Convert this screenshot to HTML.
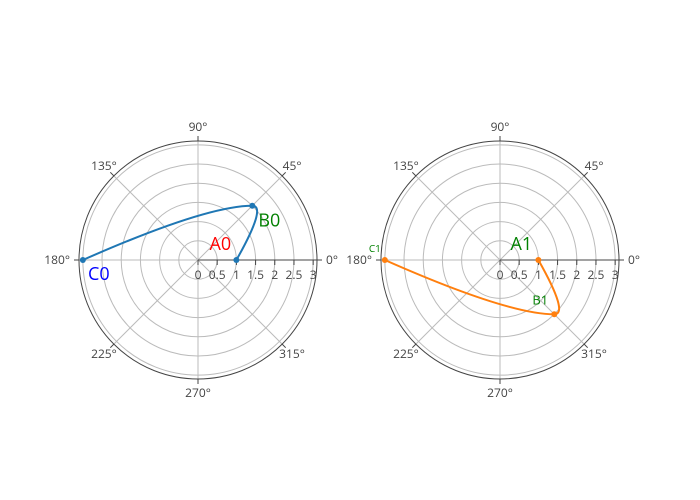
<!DOCTYPE html>
<html><head><meta charset="utf-8"><style>
html,body{margin:0;padding:0;background:#fff;}
svg{display:block;font-family:"Open Sans","Liberation Sans",sans-serif;}
</style></head><body>
<svg id="chart" width="700" height="500"></svg>
<script>
const rValues0 = [1, 2, 3];
const thetaValues0 = [0, 45, 180];
const labels0 = ["A0", "B0", "C0"];
const rValues1 = [1, 2, 3];
const thetaValues1 = [0, -45, -180];
const labels1 = ["A1", "B1", "C1"];
const radialTicks = [0, 0.5, 1, 1.5, 2, 2.5, 3];
const angularTicks = [0, 45, 90, 135, 180, 225, 270, 315];
const rMax = 3.1;

const NS = "http://www.w3.org/2000/svg";
const svg = document.getElementById("chart");
function mk(tag, attrs, parent) {
  const e = document.createElementNS(NS, tag);
  for (const k in attrs) e.setAttribute(k, attrs[k]);
  (parent || svg).appendChild(e);
  return e;
}
const R = 119;
function rs(r) { return r / rMax * R; }
function pt(cx, cy, r, th) {
  const a = th * Math.PI / 180;
  return [cx + rs(r) * Math.cos(a), cy - rs(r) * Math.sin(a)];
}
function splinePath(P) {
  const s = 0.4;
  const ctrl = [];
  for (let i = 1; i < P.length - 1; i++) {
    const d1 = Math.hypot(P[i][0]-P[i-1][0], P[i][1]-P[i-1][1]);
    const d2 = Math.hypot(P[i+1][0]-P[i][0], P[i+1][1]-P[i][1]);
    const tx = (P[i+1][0]-P[i-1][0])/(d1+d2), ty = (P[i+1][1]-P[i-1][1])/(d1+d2);
    ctrl[i] = {inp: [P[i][0]-tx*d1*s, P[i][1]-ty*d1*s], out: [P[i][0]+tx*d2*s, P[i][1]+ty*d2*s]};
  }
  const f = v => v[0].toFixed(2) + "," + v[1].toFixed(2);
  let d = "M" + f(P[0]);
  const n = P.length;
  if (n === 2) return d + "L" + f(P[1]);
  d += "Q" + f(ctrl[1].inp) + " " + f(P[1]);
  for (let i = 1; i < n - 2; i++) d += "C" + f(ctrl[i].out) + " " + f(ctrl[i+1].inp) + " " + f(P[i+1]);
  d += "Q" + f(ctrl[n-2].out) + " " + f(P[n-1]);
  return d;
}

function drawPolar(cx, cy, rv, tv, labels, color, labelStyles, name) {
  const g = mk("g", {});
  
  
  radialTicks.forEach(t => {
    if (t === 0) return;
    const c = mk("circle", {cx, cy, r: rs(t), fill: "none", stroke: "#bbb", "stroke-width": 1}, g);
    
    
  });
  angularTicks.forEach(a => {
    const [x, y] = pt(cx, cy, rMax, a);
    const l = mk("line", {x1: cx, y1: cy, x2: x, y2: y, stroke: "#bbb", "stroke-width": 1}, g);
    
    
  });
  const oc = mk("circle", {cx, cy, r: R, fill: "none", stroke: "#444", "stroke-width": 1}, g);
  
  
  const ra = mk("line", {x1: cx, y1: cy, x2: cx + R, y2: cy, stroke: "#444", "stroke-width": 1}, g);
  
  
  radialTicks.forEach(t => {
    const x = cx + rs(t);
    const tk = mk("line", {x1: x, y1: cy, x2: x, y2: cy + 5, stroke: "#444"}, g);
    
    
    const tx = mk("text", {x, y: cy + 19, "text-anchor": "middle", "font-size": 12, fill: "#444"}, g);
    tx.textContent = String(t);
    
    
  });
  angularTicks.forEach(a => {
    const rad = a * Math.PI / 180;
    const c = Math.cos(rad), s = Math.sin(rad);
    const x1 = cx + R * c, y1 = cy - R * s;
    const x2 = cx + (R + 5) * c, y2 = cy - (R + 5) * s;
    const tk = mk("line", {x1, y1, x2, y2, stroke: "#444"}, g);
    
    
    let anchor = "middle", lx, ly;
    if (Math.abs(c) > 0.9) {
      anchor = c > 0 ? "start" : "end";
      lx = cx + (R + 9) * c; ly = cy + 4;
    } else {
      lx = cx + (R + 14) * c; ly = cy - (R + 14) * s + 4;
    }
    const tx = mk("text", {x: lx, y: ly, "text-anchor": anchor, "font-size": 12, fill: "#444"}, g);
    tx.textContent = a + "°";
    
    
  });
  const P = rv.map((r, i) => pt(cx, cy, r, tv[i]));
  const p = mk("path", {d: splinePath(P), fill: "none", stroke: color, "stroke-width": 2}, g);
  
  
  P.forEach(([x, y], i) => {
    const c = mk("circle", {cx: x, cy: y, r: 3, fill: color}, g);
    
    
    const st = labelStyles[i];
    const t = mk("text", {x: x + st.dx, y: y + st.dy, "text-anchor": "middle", "font-size": st.size, fill: st.color}, g);
    t.textContent = labels[i];
    
    
  });
}

drawPolar(198, 260, rValues0, thetaValues0, labels0, "#1f77b4", [
  {dx: -16, dy: -10, size: 18, color: "red"},
  {dx: 17, dy: 21, size: 18, color: "green"},
  {dx: 16, dy: 20, size: 18, color: "blue"}
], "polar-subplot-1");
drawPolar(500, 260, rValues1, thetaValues1, labels1, "#ff7f0e", [
  {dx: -17, dy: -10, size: 18, color: "green"},
  {dx: -14, dy: -10, size: 13, color: "green"},
  {dx: -10, dy: -8, size: 10, color: "green"}
], "polar-subplot-2");
</script>
</body></html>
